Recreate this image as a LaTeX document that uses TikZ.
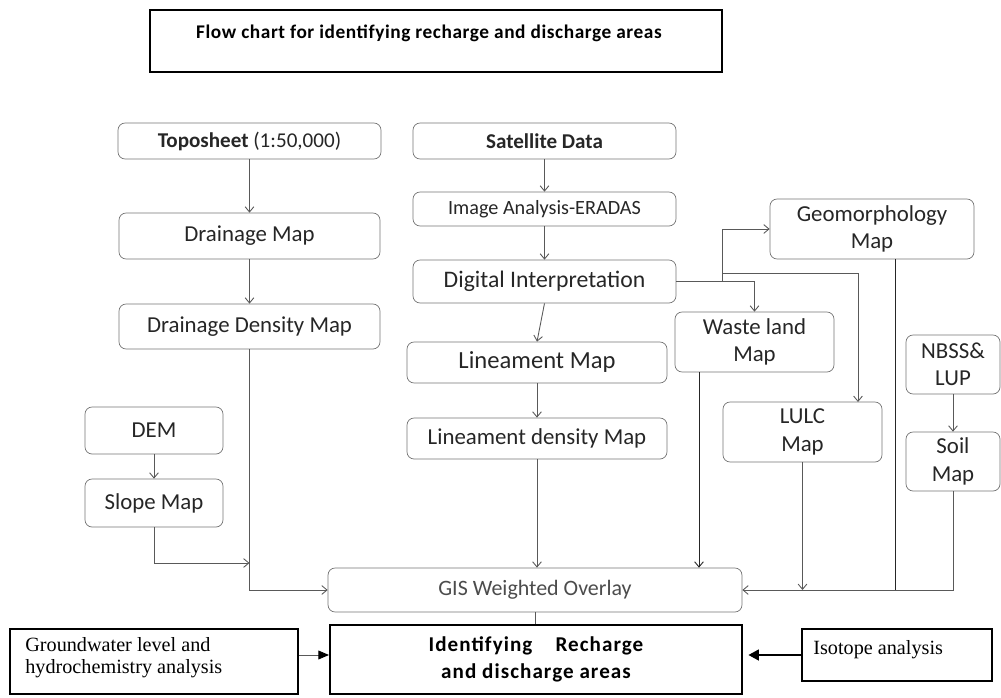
\documentclass[tikz,border=0pt]{standalone}
\usepackage{fontspec}
\usepackage{tikz}
\usetikzlibrary{arrows.meta,shadows}
\setmainfont{Carlito}
\newfontfamily\serifbox{Liberation Serif}
\newfontfamily\spacedfont[LetterSpace=3]{Carlito}
\newfontfamily\widefont[LetterSpace=5]{Carlito}

\tikzset{
  box/.style={draw=black!55, rounded corners=4pt, inner sep=2pt, align=center,
    text=black!85, font=\fontsize{13}{15.5}\selectfont},
  frame/.style={draw=black, line width=1pt, fill=white,
    drop shadow={fill=black, opacity=1, shadow xshift=0.7pt, shadow yshift=-0.7pt}},
  link/.style={draw=black!65, line width=0.5pt},
  arr/.style={link, -{Straight Barb[length=3pt,width=5pt]}},
}

\begin{document}
\begin{tikzpicture}[x=0.02cm,y=-0.02cm]
  \useasboundingbox (0,0) rectangle (1001,697);

  % title
  \node[frame, minimum width=11.44cm, minimum height=1.24cm] (title) at (436,41) {};
  \node[font=\spacedfont\bfseries\fontsize{11}{13}\selectfont] (titletext) at (429,33)
    {Flow chart for identifying recharge and discharge areas};

  % left column
  \node[box, minimum width=5.26cm, minimum height=0.72cm, font=\fontsize{12}{14}\selectfont] (topo) at (249.5,141) {\textbf{Toposheet} (1:50,000)};
  \node[box, minimum width=5.22cm, minimum height=0.92cm] (drain) at (249.5,236) {Drainage Map};
  \node[box, minimum width=5.22cm, minimum height=0.9cm] (dden) at (249.5,326.5) {Drainage Density Map};
  \node[box, minimum width=2.76cm, minimum height=0.94cm] (dem) at (154,430.5) {DEM};
  \node[box, minimum width=2.76cm, minimum height=0.96cm] (slope) at (154,503) {Slope Map};

  % middle column
  \node[box, minimum width=5.26cm, minimum height=0.72cm, font=\bfseries\fontsize{12}{14}\selectfont] (sat) at (544.5,141) {Satellite Data};
  \node[box, minimum width=5.26cm, minimum height=0.68cm, font=\fontsize{11.5}{13.5}\selectfont] (img) at (544.5,209) {Image Analysis-ERADAS};
  \node[box, minimum width=5.26cm, minimum height=0.86cm, font=\fontsize{13.5}{16}\selectfont] (di) at (544.5,281.5) {Digital Interpretation};
  \node[box, minimum width=5.2cm, minimum height=0.82cm, font=\fontsize{14}{16}\selectfont] (lin) at (537,362.5) {Lineament Map};
  \node[box, minimum width=5.2cm, minimum height=0.82cm] (lind) at (537,438.5) {Lineament density Map};
  \node[box, minimum width=8.28cm, minimum height=0.88cm, text=black!70, font=\fontsize{12.5}{15}\selectfont] (gis) at (535,590) {GIS Weighted Overlay};

  % right side
  \node[box, minimum width=4.08cm, minimum height=1.2cm] (geo) at (872,229) {Geomorphology\\Map};
  \node[box, minimum width=3.18cm, minimum height=1.2cm] (waste) at (754.5,342) {Waste land\\Map};
  \node[box, minimum width=3.18cm, minimum height=1.2cm] (lulc) at (802.5,432) {LULC\\Map};
  \node[box, minimum width=1.88cm, minimum height=1.18cm] (nbss) at (953,364.5) {NBSS\&\\LUP};
  \node[box, minimum width=1.88cm, minimum height=1.18cm] (soil) at (953,461.5) {Soil\\Map};

  % bottom row
  \node[frame, line width=1.2pt, minimum width=8.24cm, minimum height=1.38cm, align=center,
    font=\widefont\bfseries\fontsize{12}{15}\selectfont] (ident) at (536,659.5)
    {Identifying\hspace{1.1em}Recharge\\and discharge areas};
  \node[frame, minimum width=5.76cm, minimum height=1.3cm] (gw) at (154,661.5) {};
  \node[anchor=north west, inner sep=0pt, align=left, font=\serifbox\fontsize{11.5}{12.5}\selectfont] (gwtext) at (25,637)
    {Groundwater level and\\hydrochemistry analysis};
  \node[frame, minimum width=3.8cm, minimum height=1.04cm] (iso) at (897,655) {};
  \node[anchor=west, inner sep=0pt, font=\serifbox\fontsize{11.5}{12.5}\selectfont] (isotext) at (813,650) {Isotope analysis};

  % junctions
  \coordinate (sj) at (249.5,563);
  \coordinate (j1) at (722,281.5);
  \coordinate (j2) at (722,273);
  \coordinate (lt) at (858,402);
  \coordinate (wb) at (699,372);
  \coordinate (gb) at (895,259);

  % connectors
  \draw[arr] (topo) -- (drain);
  \draw[arr] (drain) -- (dden);
  \draw[arr] (dden.south) |- (gis.west);
  \draw[arr] (dem) -- (slope);
  \draw[arr] (slope.south) |- (sj);
  \draw[arr] (sat) -- (img);
  \draw[arr] (img) -- (di);
  \draw[arr] (di.south) -- (lin.north);
  \draw[arr] (lin) -- (lind);
  \draw[arr] (lind.south) -- (lind.south |- gis.north);
  \draw[link] (gis.south) -- (gis.south |- ident.north);
  \draw[arr] (di.east) -| (waste.north);
  \draw[arr] (j1) |- (geo.west);
  \draw[arr] (j2) -| (lt);
  \draw[arr, draw=black!85] (wb) -- (wb |- gis.north);
  \draw[arr] (lulc.south) -- (lulc.south |- gis.east);
  \draw[link, draw=black!85] (gb) -- (gb |- gis.east);
  \draw[arr] (nbss) -- (soil);
  \draw[arr] (soil.south) |- (gis.east);
  \draw[link, -{Triangle[length=6pt,width=5pt,color=black]}] (gw.east |- iso.west) -- (ident.west |- iso.west);
  \draw[line width=1.5pt, -{Triangle[length=6pt,width=6pt]}] (iso.west) -- ([xshift=3pt]ident.east |- iso.west);
\end{tikzpicture}
\end{document}
